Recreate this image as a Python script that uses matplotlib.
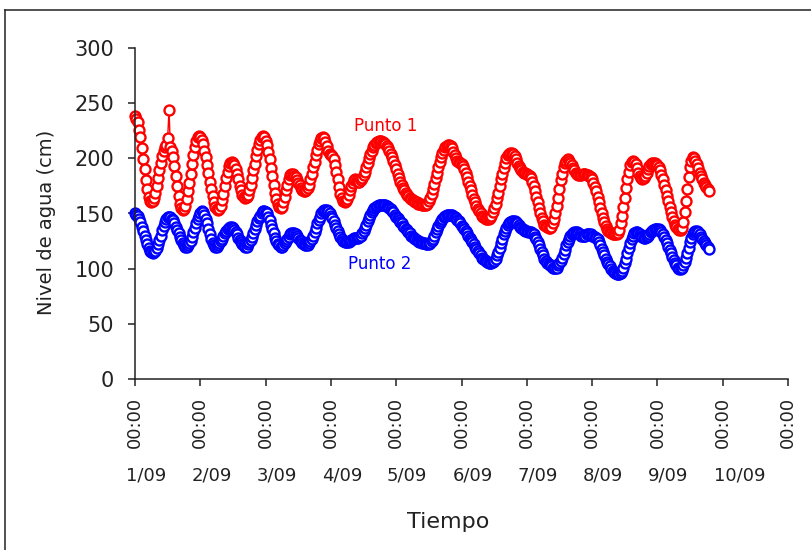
import numpy as np
import matplotlib
matplotlib.use("Agg")
import matplotlib.pyplot as plt
from matplotlib.lines import Line2D
from matplotlib.transforms import blended_transform_factory

# water level readings every 30 min starting 1/09 00:00 (cm)
punto1 = [
    238, 236, 233, 226, 219, 209, 199, 190, 180, 172, 165, 161,
    160, 161, 164, 169, 175, 182, 189, 196, 202, 207, 210, 212,
    218, 244, 210, 207, 201, 193, 184, 175, 166, 159, 155, 153,
    154, 157, 163, 170, 178, 186, 195, 203, 210, 216, 219, 220,
    219, 217, 213, 207, 201, 194, 187, 179, 172, 166, 160, 156,
    154, 153, 154, 157, 162, 168, 175, 182, 188, 193, 196, 197,
    196, 194, 190, 186, 181, 175, 171, 167, 165, 164, 165, 167,
    171, 176, 182, 189, 195, 202, 208, 213, 217, 219, 220, 219,
    216, 212, 206, 199, 191, 184, 176, 169, 163, 159, 156, 155,
    156, 160, 165, 171, 176, 181, 185, 186, 186, 184, 183, 180,
    178, 176, 173, 171, 170, 170, 171, 173, 176, 181, 186, 192,
    197, 203, 208, 213, 216, 218, 219, 218, 215, 211, 207, 204,
    203, 202, 199, 194, 188, 181, 174, 168, 164, 161, 160, 161,
    163, 167, 171, 175, 178, 180, 181, 180, 179, 179, 180, 182,
    185, 188, 192, 196, 200, 204, 207, 210, 212, 214, 215, 216,
    216, 216, 215, 214, 213, 211, 209, 207, 204, 201, 198, 194,
    190, 186, 182, 179, 176, 173, 171, 169, 167, 166, 164, 163,
    162, 161, 160, 160, 159, 159, 159, 158, 158, 158, 158, 159,
    161, 164, 168, 172, 177, 182, 187, 192, 197, 201, 205, 208,
    210, 211, 212, 212, 211, 209, 206, 203, 200, 198, 197, 196,
    195, 193, 190, 187, 183, 179, 175, 171, 167, 163, 160, 157,
    154, 152, 150, 148, 147, 146, 145, 145, 145, 146, 148, 151,
    155, 159, 164, 169, 175, 181, 186, 191, 196, 200, 203, 204,
    205, 205, 204, 202, 199, 196, 193, 191, 189, 188, 187, 187,
    186, 185, 184, 182, 179, 175, 170, 165, 160, 155, 150, 146,
    143, 140, 139, 138, 137, 137, 138, 141, 145, 150, 157, 164,
    172, 180, 186, 192, 196, 198, 199, 198, 196, 194, 191, 189,
    187, 186, 185, 185, 185, 186, 186, 186, 185, 185, 184, 183,
    181, 178, 174, 170, 165, 160, 155, 150, 146, 142, 139, 136,
    134, 133, 132, 131, 131, 131, 131, 132, 135, 141, 148, 156,
    164, 173, 181, 188, 194, 197, 198, 197, 195, 191, 187, 184,
    182, 181, 182, 184, 187, 190, 193, 195, 196, 196, 196, 195,
    194, 192, 189, 185, 181, 176, 171, 166, 161, 156, 151, 147,
    143, 140, 138, 136, 135, 135, 137, 142, 151, 161, 172, 183,
    192, 198, 201, 200, 198, 195, 191, 187, 184, 181, 178, 176,
    174, 172, 170,
]

punto2 = [
    150, 149, 148, 145, 142, 138, 134, 130, 126, 122, 119, 116,
    115, 114, 115, 116, 119, 122, 126, 130, 135, 139, 142, 145,
    147, 147, 147, 145, 144, 141, 138, 135, 132, 129, 126, 123,
    121, 120, 120, 121, 123, 125, 129, 133, 137, 141, 145, 148,
    150, 152, 151, 149, 145, 141, 136, 131, 127, 123, 121, 120,
    120, 121, 123, 125, 127, 130, 132, 134, 136, 137, 138, 138,
    137, 135, 133, 131, 128, 126, 124, 122, 121, 120, 120, 122,
    124, 126, 129, 132, 136, 140, 143, 146, 148, 150, 152, 152,
    151, 150, 147, 144, 140, 136, 132, 128, 125, 122, 121, 120,
    120, 121, 123, 125, 127, 129, 131, 132, 132, 132, 131, 130,
    128, 126, 125, 123, 122, 121, 121, 121, 123, 125, 127, 130,
    133, 137, 141, 144, 147, 150, 152, 153, 153, 153, 152, 150,
    148, 146, 143, 140, 137, 134, 131, 129, 127, 125, 124, 124,
    124, 124, 125, 126, 127, 128, 128, 128, 128, 129, 130, 132,
    134, 137, 140, 143, 146, 149, 151, 153, 155, 156, 157, 158,
    158, 158, 158, 158, 158, 157, 156, 155, 154, 152, 151, 149,
    147, 146, 144, 142, 141, 139, 138, 136, 135, 133, 132, 130,
    129, 128, 127, 126, 125, 124, 124, 123, 123, 123, 122, 122,
    122, 123, 125, 127, 130, 133, 136, 139, 141, 143, 145, 147,
    148, 149, 149, 149, 149, 149, 148, 147, 146, 144, 143, 141,
    139, 138, 136, 134, 132, 130, 128, 126, 124, 122, 120, 118,
    116, 114, 112, 110, 109, 108, 107, 106, 105, 105, 105, 106,
    107, 109, 112, 115, 119, 123, 127, 131, 134, 137, 140, 141,
    142, 143, 143, 143, 142, 141, 140, 138, 137, 136, 135, 134,
    134, 133, 133, 133, 132, 131, 129, 127, 124, 121, 118, 115,
    112, 109, 107, 105, 104, 103, 102, 101, 101, 101, 101, 103,
    105, 107, 110, 113, 117, 121, 124, 127, 130, 131, 132, 133,
    133, 133, 132, 131, 130, 130, 130, 130, 131, 131, 131, 131,
    130, 130, 129, 128, 127, 124, 121, 118, 115, 112, 109, 106,
    104, 102, 100, 98, 97, 96, 95, 95, 95, 96, 98, 101,
    105, 109, 114, 119, 123, 127, 130, 132, 133, 133, 132, 131,
    130, 129, 128, 128, 129, 130, 131, 133, 134, 135, 136, 136,
    136, 136, 135, 133, 131, 129, 126, 123, 120, 117, 114, 111,
    108, 105, 103, 101, 100, 100, 101, 103, 106, 110, 114, 119,
    124, 128, 131, 133, 134, 134, 133, 131, 129, 127, 125, 123,
    121, 120, 118,
]

dias = ['1/09', '2/09', '3/09', '4/09', '5/09', '6/09', '7/09', '8/09', '9/09', '10/09']
yticks = [0, 50, 100, 150, 200, 250, 300]
paso_h = 0.5

t1 = np.arange(len(punto1)) * paso_h / 24.0
t2 = np.arange(len(punto2)) * paso_h / 24.0

W, H = 811, 550
fig = plt.figure(figsize=(W / 100, H / 100), dpi=100)
ax = fig.add_axes([135 / W, 1 - 379 / H, (788 - 135) / W, (379 - 48) / H])

estilo = dict(marker='o', markersize=7.2, markeredgewidth=1.7,
              markerfacecolor='white', linewidth=1.0, clip_on=False)
ax.plot(t1, punto1, color='#ff0000', markeredgecolor='#ff0000', **estilo)
ax.plot(t2, punto2, color='#0000ff', markeredgecolor='#0000ff', **estilo)

ax.set_xlim(0, 10)
ax.set_ylim(0, 300)
for s in ['top', 'right']:
    ax.spines[s].set_visible(False)
for s in ['left', 'bottom']:
    ax.spines[s].set_linewidth(1.1)
    ax.spines[s].set_color('#222222')

ax.set_yticks(yticks)
ax.set_xticks(range(11))
ax.set_xticklabels(['00:00'] * 11, rotation=90, fontsize=13)
ax.tick_params(axis='y', direction='out', length=5, width=1.1, pad=10,
               labelsize=15, colors='#222222')
ax.tick_params(axis='x', direction='out', length=5, width=1.1, pad=8,
               colors='#222222')

# date under each midnight tick
tr = blended_transform_factory(ax.transData, fig.transFigure)
for i, d in enumerate(dias):
    ax.text(i - 0.14, 1 - 476 / H, d, transform=tr, ha='left', va='center',
            fontsize=13, color='#222222')

fig.text(448 / W, 1 - 522 / H, 'Tiempo', ha='center', va='center',
         fontsize=16, color='#222222')
fig.text(47 / W, 1 - 222 / H, 'Nivel de agua (cm)', rotation=90,
         ha='center', va='center', fontsize=14, color='#222222')

ax.text(3.84, 229, 'Punto 1', color='#ff0000', fontsize=12,
        ha='center', va='center')
ax.text(3.75, 104, 'Punto 2', color='#0000ff', fontsize=12,
        ha='center', va='center')

# outer frame (top and left edges)
fig.add_artist(Line2D([5 / W, 5 / W], [0, 1 - 10 / H], transform=fig.transFigure,
                      color='#222222', linewidth=1.1))
fig.add_artist(Line2D([5 / W, 1], [1 - 10 / H, 1 - 10 / H], transform=fig.transFigure,
                      color='#222222', linewidth=1.1))

fig.savefig('out.png', dpi=100)
